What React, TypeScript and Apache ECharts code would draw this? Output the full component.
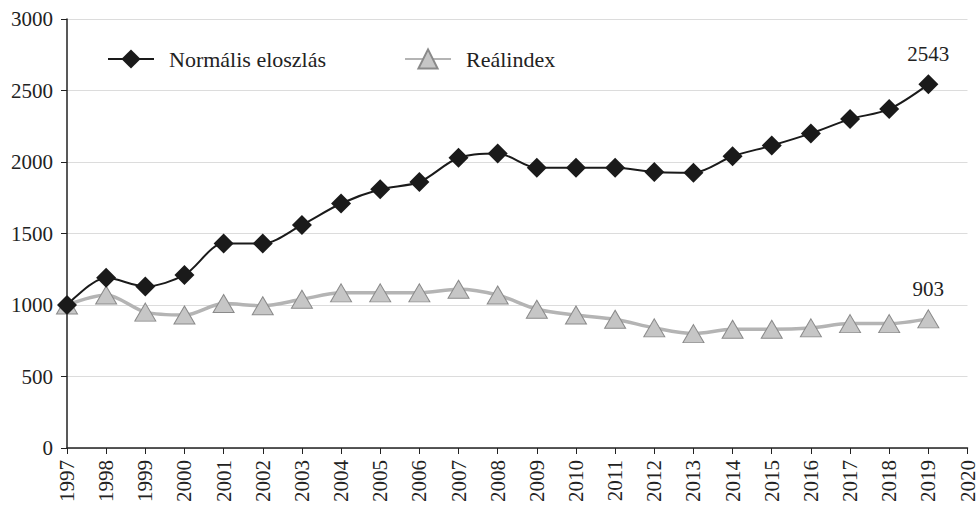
import React, { useEffect, useRef } from "react";
import * as echarts from "echarts";

const years = [1997, 1998, 1999, 2000, 2001, 2002, 2003, 2004, 2005, 2006, 2007, 2008, 2009, 2010, 2011, 2012, 2013, 2014, 2015, 2016, 2017, 2018, 2019];
const normalValues = [1000, 1190, 1130, 1210, 1430, 1430, 1560, 1710, 1810, 1860, 2030, 2060, 1960, 1960, 1960, 1930, 1925, 2040, 2115, 2200, 2300, 2370, 2543];
const realValues = [1000, 1070, 950, 930, 1010, 995, 1040, 1085, 1085, 1085, 1110, 1070, 970, 930, 900, 840, 800, 830, 830, 840, 870, 870, 903];
const seriesNames = ["Normális eloszlás", "Reálindex"];

const FONT = "Liberation Serif";
const FS = 21;

export default function App() {
  const ref = useRef<HTMLDivElement>(null);
  useEffect(() => {
    if (!ref.current) return;
    const chart = echarts.init(ref.current, null, { renderer: "svg" });
    const last = years.length - 1;
    const mk = (vals: number[]) =>
      vals.map((v, i) => {
        const d: any = { value: [years[i], v] };
        if (i === last) {
          d.label = { show: true, position: "top", distance: 10, formatter: String(v), color: "#222", fontFamily: FONT, fontSize: FS };
        }
        return d;
      });
    chart.setOption({
      animation: false,
      textStyle: { fontFamily: FONT },
      legend: {
        left: 102,
        top: 43,
        itemWidth: 46,
        itemHeight: 24,
        itemGap: 78,
        textStyle: { fontFamily: FONT, fontSize: 22, color: "#222", padding: [0, 0, 0, 10] },
        data: seriesNames,
      },
      grid: { left: 67, right: 9, top: 19, bottom: 56, containLabel: false },
      xAxis: {
        type: "value",
        min: 1997,
        max: 2020,
        interval: 1,
        axisLine: { lineStyle: { color: "#222", width: 1.5 } },
        axisTick: { show: true, length: 6, lineStyle: { color: "#222" } },
        splitLine: { show: false },
        axisLabel: { rotate: 90, formatter: (v: number) => String(v), color: "#222", fontFamily: FONT, fontSize: FS, margin: 12 },
      },
      yAxis: {
        type: "value",
        min: 0,
        max: 3000,
        interval: 500,
        axisLine: { show: true, lineStyle: { color: "#222", width: 1.5 } },
        axisTick: { show: true, length: 6, lineStyle: { color: "#222" } },
        splitLine: { lineStyle: { color: "#dcdcdc", width: 1 } },
        axisLabel: { formatter: (v: number) => String(v), color: "#222", fontFamily: FONT, fontSize: FS, margin: 14 },
      },
      series: [
        {
          name: seriesNames[1],
          type: "line",
          smooth: 0.3,
          data: mk(realValues),
          symbol: "triangle",
          symbolSize: [21, 18],
          lineStyle: { color: "#b4b4b4", width: 3.5 },
          itemStyle: { color: "#c6c6c6", borderColor: "#8a8a8a", borderWidth: 1 },
          z: 2,
        },
        {
          name: seriesNames[0],
          type: "line",
          smooth: 0.3,
          data: mk(normalValues),
          symbol: "diamond",
          symbolSize: 20,
          lineStyle: { color: "#1a1a1a", width: 2 },
          itemStyle: { color: "#1a1a1a", borderColor: "#1a1a1a", borderWidth: 0 },
          z: 3,
        },
      ],
    });
    return () => chart.dispose();
  }, []);
  return <div ref={ref} style={{ width: 978, height: 505, position: "absolute", left: 0, top: 0 }} />;
}
